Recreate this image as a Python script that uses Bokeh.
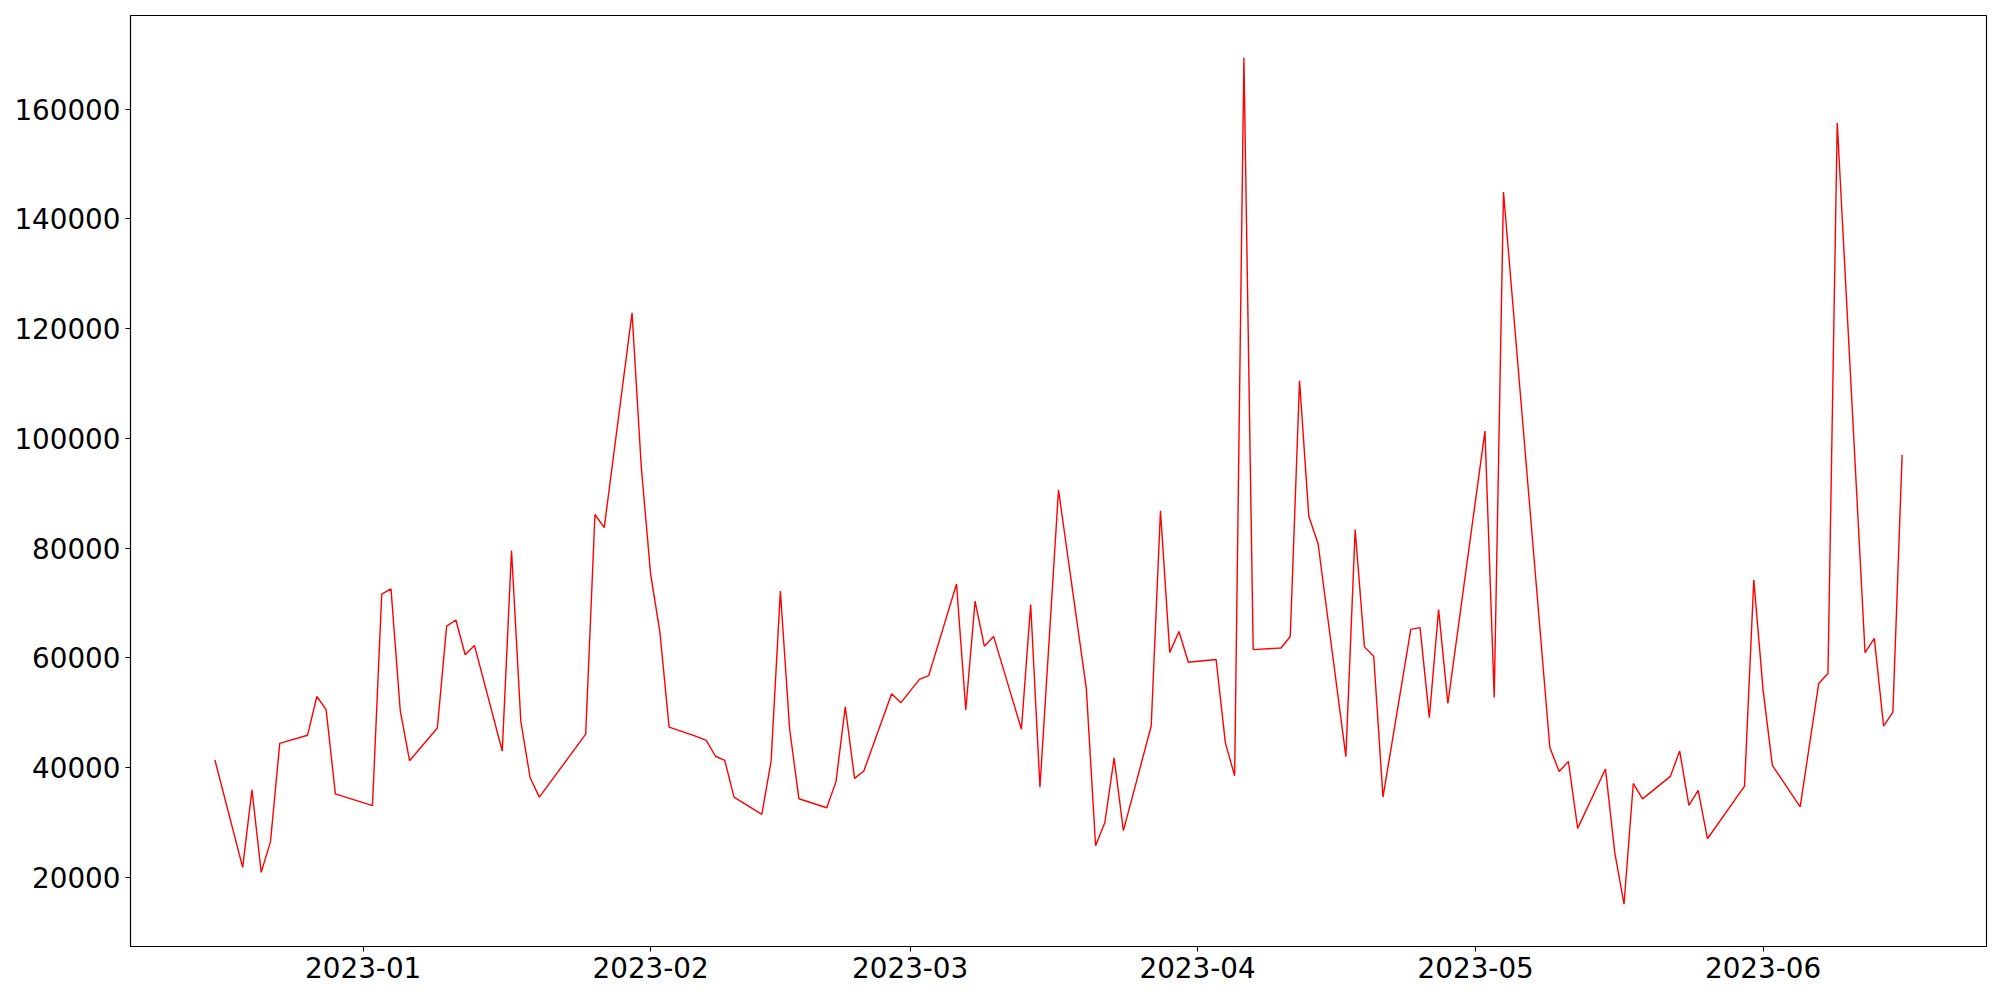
import pandas as pd
from bokeh.plotting import figure
from bokeh.models import Range1d, FixedTicker, DatetimeTickFormatter, NumeralTickFormatter, ColumnDataSource
from bokeh.embed import file_html
from bokeh.resources import INLINE

dates = [
    "2022-12-16", "2022-12-19", "2022-12-20", "2022-12-21", "2022-12-22", "2022-12-23",
    "2022-12-26", "2022-12-27", "2022-12-28", "2022-12-29",
    "2023-01-02", "2023-01-03", "2023-01-04", "2023-01-05", "2023-01-06",
    "2023-01-09", "2023-01-10", "2023-01-11", "2023-01-12", "2023-01-13",
    "2023-01-16", "2023-01-17", "2023-01-18", "2023-01-19", "2023-01-20",
    "2023-01-25", "2023-01-26", "2023-01-27",
    "2023-01-30", "2023-01-31", "2023-02-01", "2023-02-02", "2023-02-03",
    "2023-02-06", "2023-02-07", "2023-02-08", "2023-02-09", "2023-02-10",
    "2023-02-13", "2023-02-14", "2023-02-15", "2023-02-16", "2023-02-17",
    "2023-02-20", "2023-02-21", "2023-02-22", "2023-02-23", "2023-02-24",
    "2023-02-27", "2023-02-28", "2023-03-02", "2023-03-03",
    "2023-03-06", "2023-03-07", "2023-03-08", "2023-03-09", "2023-03-10",
    "2023-03-13", "2023-03-14", "2023-03-15", "2023-03-17",
    "2023-03-20", "2023-03-21", "2023-03-22", "2023-03-23", "2023-03-24",
    "2023-03-27", "2023-03-28", "2023-03-29", "2023-03-30", "2023-03-31",
    "2023-04-03", "2023-04-04", "2023-04-05", "2023-04-06", "2023-04-07",
    "2023-04-10", "2023-04-11", "2023-04-12", "2023-04-13", "2023-04-14",
    "2023-04-17", "2023-04-18", "2023-04-19", "2023-04-20", "2023-04-21",
    "2023-04-24", "2023-04-25", "2023-04-26", "2023-04-27", "2023-04-28",
    "2023-05-02", "2023-05-03", "2023-05-04",
    "2023-05-09", "2023-05-10", "2023-05-11", "2023-05-12",
    "2023-05-15", "2023-05-16", "2023-05-17", "2023-05-18", "2023-05-19",
    "2023-05-22", "2023-05-23", "2023-05-24", "2023-05-25", "2023-05-26",
    "2023-05-30", "2023-05-31", "2023-06-01", "2023-06-02",
    "2023-06-05", "2023-06-07", "2023-06-08", "2023-06-09",
    "2023-06-12", "2023-06-13", "2023-06-14", "2023-06-15", "2023-06-16",
]

values = [
    41400, 21800, 35950, 20900, 26500, 44400,
    45900, 52950, 50570, 35200,
    33050, 71600, 72560, 50340, 41250,
    47210, 65780, 66900, 60560, 62270,
    43030, 79570, 48480, 38190, 34610,
    46090, 86130, 83745,
    122890, 94705, 75320, 64730, 47360,
    45645, 44970, 42066, 41320, 34610,
    31480, 41170, 72190, 46990, 34310,
    32670, 37440, 51090, 38040, 39380,
    53470, 51830, 56080, 56755,
    73460, 50490, 70320, 62120, 63910,
    46990, 69730, 36400, 90600,
    54440, 25740, 29990, 41770, 28500,
    47580, 86800, 61000, 64800, 59200,
    59700, 44500, 38500, 169370, 61500,
    61800, 63900, 110500, 85800, 80800,
    42000, 83400, 62000, 60300, 34600,
    65200, 65500, 49100, 68800, 51690,
    101340, 52780, 144900,
    43670, 39300, 41120, 28910,
    39750, 24540, 15100, 37110, 34290,
    38390, 43030, 33100, 35840, 27030,
    36620, 74220, 54160, 40400,
    32840, 55320, 57160, 157500,
    60940, 63560, 47570, 50090, 97000,
]

month_ticks = ["2023-01-01", "2023-02-01", "2023-03-01", "2023-04-01", "2023-05-01", "2023-06-01"]
y_ticks = [20000, 40000, 60000, 80000, 100000, 120000, 140000, 160000]

x = pd.to_datetime(dates)
src = ColumnDataSource(dict(x=x, y=values))

xmin, xmax = x.min(), x.max()
xpad = (xmax - xmin) * 0.05
ymin, ymax = min(values), max(values)
ypad = (ymax - ymin) * 0.05

p = figure(width=1990, height=990, x_axis_type="datetime",
           output_backend="svg", toolbar_location=None,
           x_range=Range1d(xmin - xpad, xmax + xpad),
           y_range=Range1d(ymin - ypad, ymax + ypad),
           min_border_left=130, min_border_top=15,
           min_border_right=4, min_border_bottom=44)

p.line("x", "y", source=src, line_color="red", line_width=1.4)

p.xgrid.visible = False
p.ygrid.visible = False
p.outline_line_color = "black"
p.outline_line_width = 1.1
p.background_fill_color = "white"
p.border_fill_color = "white"

tick_ms = [pd.Timestamp(t).value / 1e6 for t in month_ticks]
p.xaxis.ticker = FixedTicker(ticks=tick_ms)
fmt = "%Y-%m"
p.xaxis.formatter = DatetimeTickFormatter(
    milliseconds=fmt, seconds=fmt, minsec=fmt, minutes=fmt, hourmin=fmt,
    hours=fmt, days=fmt, months=fmt, years=fmt)
p.yaxis.ticker = FixedTicker(ticks=y_ticks)
p.yaxis.formatter = NumeralTickFormatter(format="0")

for ax in (p.xaxis[0], p.yaxis[0]):
    ax.major_label_text_font = "DejaVu Sans"
    ax.major_label_text_font_size = "27.8px"
    ax.major_label_text_color = "black"
    ax.major_tick_out = 5
    ax.major_tick_in = 0
    ax.minor_tick_out = 0
    ax.minor_tick_in = 0
    ax.major_tick_line_width = 1.1
    ax.major_tick_line_color = "black"
    ax.axis_line_color = "black"
    ax.axis_line_width = 1.1
    ax.major_label_standoff = 5

open("out.html", "w").write(file_html(p, INLINE))
